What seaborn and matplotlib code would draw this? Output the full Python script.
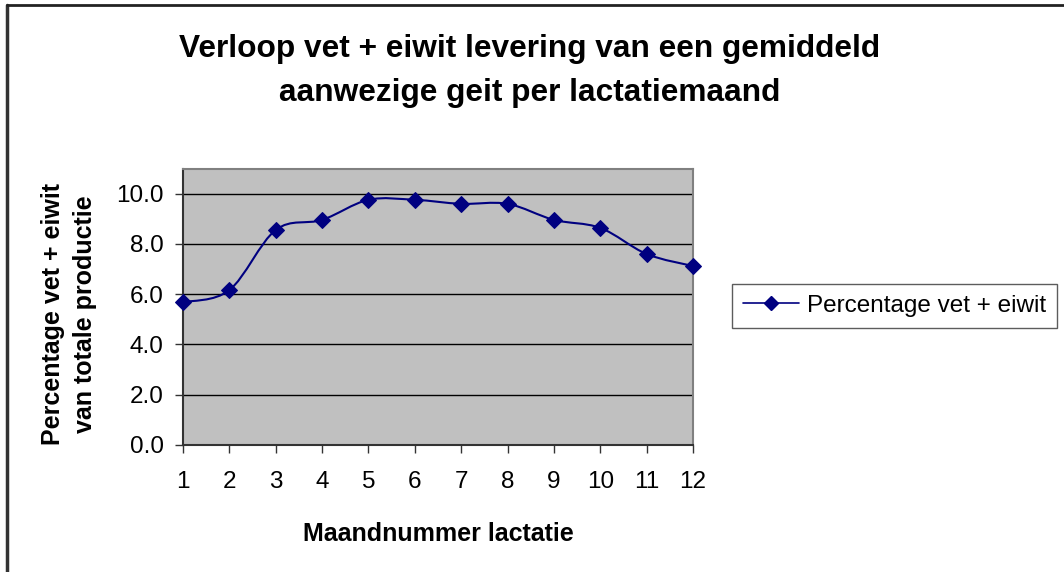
import numpy as np
import matplotlib
matplotlib.use("Agg")
import matplotlib.pyplot as plt
from matplotlib.path import Path
from matplotlib.patches import PathPatch
from matplotlib.lines import Line2D
import seaborn as sns

# data
maand = [1, 2, 3, 4, 5, 6, 7, 8, 9, 10, 11, 12]
percentage = [5.68, 6.16, 8.56, 8.96, 9.76, 9.76, 9.60, 9.60, 8.96, 8.64, 7.60, 7.12]

navy = "#000080"

sns.set_theme(style="white")
plt.rcParams['font.family'] = ['Liberation Sans', 'DejaVu Sans']
plt.rcParams['text.color'] = 'black'
plt.rcParams['axes.labelcolor'] = 'black'
plt.rcParams['xtick.color'] = 'black'
plt.rcParams['ytick.color'] = 'black'

fig = plt.figure(figsize=(10.64, 5.72), dpi=100)
ax = fig.add_axes([183 / 1064, 1 - 444.7 / 572, 510 / 1064, 276 / 572])
ax.set_facecolor("#C0C0C0")

# smoothed line like Excel (bezier through the points)
x = np.array(maand, dtype=float)
y = np.array(percentage)
verts = [(x[0], y[0])]
codes = [Path.MOVETO]
t = 1 / 6
for i in range(len(x) - 1):
    p0 = (x[i - 1], y[i - 1]) if i > 0 else (x[i], y[i])
    p3 = (x[i + 2], y[i + 2]) if i + 2 < len(x) else (x[i + 1], y[i + 1])
    c1 = (x[i] + t * (x[i + 1] - p0[0]), y[i] + t * (y[i + 1] - p0[1]))
    c2 = (x[i + 1] - t * (p3[0] - x[i]), y[i + 1] - t * (p3[1] - y[i]))
    verts += [c1, c2, (x[i + 1], y[i + 1])]
    codes += [Path.CURVE4] * 3
ax.add_patch(PathPatch(Path(verts, codes), fill=False, edgecolor=navy, lw=1.5, zorder=3))

sns.lineplot(x=maand, y=percentage, ax=ax, marker="D", markersize=8, linestyle="",
             color=navy, markeredgecolor=navy, zorder=4, clip_on=False)

ax.set_xlim(1, 12)
ax.set_ylim(0, 11)
ax.set_xticks(maand)
ax.set_yticks(np.arange(0, 11, 2))
ax.set_yticklabels([f"{v:.1f}" for v in np.arange(0, 11, 2)])
ax.yaxis.grid(True, color="#000000", lw=1)
ax.set_axisbelow(True)
ax.tick_params(axis="both", which="major", direction="out", length=6, width=1,
               color="#333333", labelsize=17.5, left=True, bottom=True)
ax.tick_params(axis="x", pad=13)
ax.tick_params(axis="y", pad=8)
for s in ["left", "bottom"]:
    ax.spines[s].set_color("#333333")
    ax.spines[s].set_linewidth(1.5)
for s in ["top", "right"]:
    ax.spines[s].set_color("#808080")
    ax.spines[s].set_linewidth(1.5)

ax.set_xlabel("Maandnummer lactatie", fontsize=18, fontweight="bold")
ax.xaxis.set_label_coords(0.5, -0.28)
ax.set_ylabel("Percentage vet + eiwit\nvan totale productie", fontsize=18,
              fontweight="bold", linespacing=1.4)
ax.yaxis.set_label_coords(-0.169, 0.4735)

fig.text(0.498, 1 - 71 / 572, "Verloop vet + eiwit levering van een gemiddeld\naanwezige geit per lactatiemaand",
         ha="center", va="center", fontsize=22.8, fontweight="bold", linespacing=1.6)

handle = Line2D([], [], color=navy, marker="D", markersize=7, lw=1.2)
leg = fig.legend([handle], ["Percentage vet + eiwit"], loc="upper left",
                 bbox_to_anchor=(732 / 1064, 1 - 284 / 572), fontsize=17.5,
                 frameon=True, fancybox=False, handlelength=2.3, borderpad=0.45,
                 handletextpad=0.35, borderaxespad=0)
leg.get_frame().set_edgecolor("#333333")
leg.get_frame().set_linewidth(1)

# outer chart border (left and top visible)
fig.add_artist(Line2D([7 / 1064, 7 / 1064], [0, 1 - 5 / 572], color="#333333", lw=2.5))
fig.add_artist(Line2D([7 / 1064, 1], [1 - 5 / 572, 1 - 5 / 572], color="#222222", lw=2))

fig.savefig("out.png", dpi=100)
